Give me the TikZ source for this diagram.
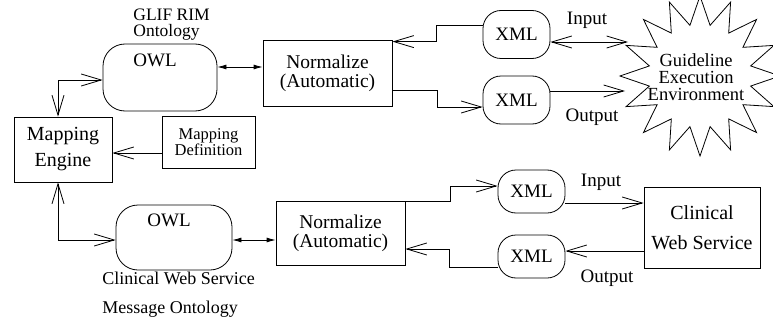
\documentclass[tikz,border=0pt]{standalone}
\usepackage{fontspec}
\setmainfont{Liberation Serif}
\usetikzlibrary{arrows.meta,shapes.geometric}

\begin{document}
\begin{tikzpicture}[x=1pt, y=-1pt, line width=0.8pt,
	box/.style={draw, rectangle, inner sep=0pt, align=center, font=\fontsize{19.5}{19}\selectfont},
	rbox/.style={draw, rounded corners=22pt, inner sep=0pt},
	xmlbox/.style={draw, rounded corners=18pt, inner sep=0pt, minimum width=67, minimum height=48, font=\fontsize{19}{19}\selectfont},
	lbl/.style={inner sep=0pt, font=\fontsize{19}{19}\selectfont},
	barb/.style={-{Straight Barb[length=20pt,width=12pt]}},
	dbarb/.style={{Straight Barb[length=20pt,width=12pt]}-{Straight Barb[length=20pt,width=12pt]}},
	fat/.style={{Latex[length=9pt,width=5pt]}-{Latex[length=9pt,width=5pt]}}]
	\useasboundingbox (0,0) rectangle (773,321);

	% Ontologien
	\node[rbox, minimum width=114, minimum height=67] (owlA) at (160,77.5) {};
	\node[lbl] (owlAtxt) at (155,60) {OWL};
	\node[lbl, align=left, anchor=west, font=\fontsize{17.5}{16}\selectfont] (glif) at (133,25) {GLIF RIM\\Ontology};
	\node[rbox, minimum width=116, minimum height=65] (owlB) at (174,237.5) {};
	\node[lbl] (owlBtxt) at (169,220) {OWL};
	\node[lbl, align=left, anchor=north west, font=\fontsize{18}{29}\selectfont] (cwsmo) at (102,272) {Clinical Web Service\\Message Ontology};

	% Mapping
	\node[box, minimum width=98, minimum height=65, font=\fontsize{20}{26}\selectfont] (engine) at (63,149.5) {Mapping\\Engine};
	\node[box, minimum width=93, minimum height=52, font=\fontsize{16.5}{16}\selectfont] (mapdef) at (208.5,142) {Mapping\\Definition};

	% Normalisierung
	\node[box, minimum width=129, minimum height=66] (normA) at (327.5,73) {Normalize\\(Automatic)};
	\node[box, minimum width=129, minimum height=64] (normB) at (340.5,233) {Normalize\\(Automatic)};

	% XML
	\node[xmlbox] (xmlA) at (516.5,34.5) {XML};
	\node[xmlbox] (xmlB) at (516.5,100) {XML};
	\node[xmlbox, minimum height=43] (xmlC) at (531.5,191.5) {XML};
	\node[xmlbox, minimum height=43] (xmlD) at (531.5,256.5) {XML};

	% Umgebungen
	\node[draw, star, star points=16, star point ratio=1.55, minimum size=160, inner sep=0pt] (gee) at (700,76) {};
	\node[lbl, align=center, font=\fontsize{18.5}{17}\selectfont] (geetxt) at (696,77) {Guideline\\Execution\\Environment};
	\node[box, minimum width=116, minimum height=81, font=\fontsize{20}{30}\selectfont] (clin) at (702,227.5) {Clinical\\Web Service};
	\coordinate (inA) at (628,42);
	\coordinate (outA) at (625,91);

	% Beschriftungen
	\node[lbl] (inAtxt) at (587,20) {Input};
	\node[lbl] (outAtxt) at (592,117) {Output};
	\node[lbl] (inBtxt) at (601,182) {Input};
	\node[lbl] (outBtxt) at (607,278) {Output};

	% Verbindungen oben
	\draw[dbarb] ([xshift=-5pt]engine.north) |- ([yshift=-2.5pt]owlA.west);
	\draw[fat] ([yshift=10.5pt]owlA.east) coordinate (c1) -- (c1 -| normA.west);
	\draw[barb] ([yshift=9.5pt]xmlA.west) -- ++(-46,0) |- ([yshift=-2pt]normA.north east);
	\draw[barb] ([yshift=-17pt]normA.east) -- ++(45,0) |- ([yshift=-7pt]xmlB.west);
	\draw[dbarb] ([yshift=-7.5pt]xmlA.east) -- (inA);
	\draw[barb] ([yshift=9pt]xmlB.east) -- (outA);

	% Verbindungen Mitte
	\draw[barb] ([yshift=-11pt]mapdef.west) coordinate (c2) -- (c2 -| engine.east);

	% Verbindungen unten
	\draw[dbarb] ([xshift=-5pt]engine.south) |- ([yshift=-2.5pt]owlB.west);
	\draw[fat] ([yshift=-2.5pt]owlB.east) coordinate (c3) -- (c3 -| normB.west);
	\draw[barb] ([yshift=-1pt]normB.north east) -- ++(45,0) |- ([yshift=5.5pt]xmlC.west);
	\draw[barb] ([yshift=-11.5pt]xmlC.east) coordinate (c4) -- (c4 -| clin.west);
	\draw[barb] ([yshift=-23.5pt]clin.west) coordinate (c5) -- (c5 -| xmlD.east);
	\draw[barb] ([yshift=-10.5pt]xmlD.west) -- ++(-48,0) |- ([yshift=-16pt]normB.east);
\end{tikzpicture}
\end{document}
